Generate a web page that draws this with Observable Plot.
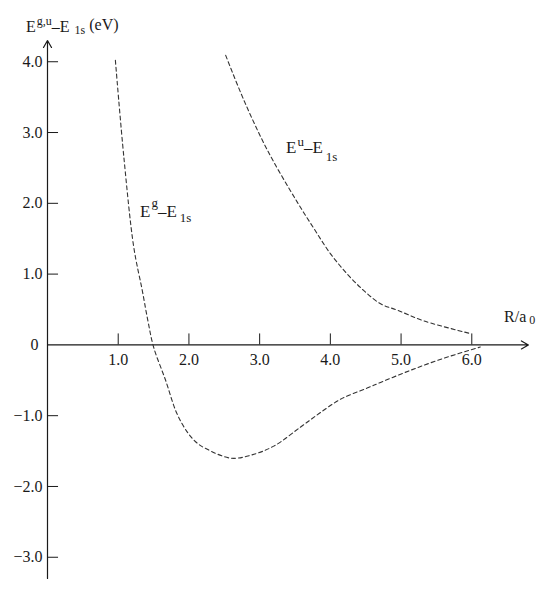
<!DOCTYPE html>
<html><head><meta charset="utf-8">
<script src="https://cdn.jsdelivr.net/npm/d3@7"></script>
<script src="https://cdn.jsdelivr.net/npm/@observablehq/plot@0.6"></script>
<style>body{margin:0;background:#fff}</style>
</head><body><div id="chart"></div>
<script>
// Tick values
const xTicks = [1, 2, 3, 4, 5, 6];
const yTicks = [-3, -2, -1, 1, 2, 3, 4];
// Gerade curve E^g - E_1s (eV) vs R/a0
const gR = [0.96, 1.08, 1.22, 1.34, 1.42, 1.50, 1.67, 1.83, 1.99, 2.12, 2.23, 2.59, 2.87, 3.20, 3.58, 3.84, 4.14, 4.52, 4.71, 5.13, 5.60, 6.12];
const gE = [4.02, 2.65, 1.38, 0.77, 0.34, -0.03, -0.50, -0.97, -1.25, -1.39, -1.46, -1.60, -1.56, -1.43, -1.16, -0.97, -0.77, -0.61, -0.53, -0.36, -0.19, -0.03];
// Ungerade curve E^u - E_1s (eV) vs R/a0
const uR = [2.52, 2.78, 3.11, 3.53, 3.77, 4.00, 4.24, 4.47, 4.71, 4.95, 5.32, 5.98];
const uE = [4.09, 3.45, 2.75, 2.02, 1.64, 1.29, 1.00, 0.77, 0.58, 0.49, 0.34, 0.16];

const gerade = gR.map((r, i) => ({r, e: gE[i]}));
const ungerade = uR.map((r, i) => ({r, e: uE[i]}));

const FONT = "'Liberation Serif', 'Times New Roman', serif";
const INK = "#1a1a1a";

function rich(anchor, parts) {
  return (index, scales, values, dims) => {
    const g = d3.create("svg:g");
    const x = anchor.px != null ? anchor.px : scales.x(anchor.x);
    const y = anchor.py != null ? anchor.py : scales.y(anchor.y);
    const t = g.append("text").attr("x", x).attr("y", y)
      .attr("text-anchor", "start")
      .attr("font-family", FONT).attr("fill", INK);
    let prev = 0;
    for (const p of parts) {
      t.append("tspan").attr("font-size", p.size)
        .attr("dy", p.shift - prev).attr("dx", p.dx || 0).text(p.t);
      prev = p.shift;
    }
    return g.node();
  };
}

const dash = {stroke: "#333", strokeWidth: 1.1, strokeDasharray: "4,3", curve: "catmull-rom"};

const chart = Plot.plot({
  width: 547,
  height: 602,
  marginLeft: 47,
  marginRight: 5,
  marginTop: 40,
  marginBottom: 24,
  x: {domain: [0, 7], axis: null},
  y: {domain: [-3.3, 4.3], axis: null},
  style: {background: "#fff", fontFamily: FONT},
  marks: [
    // axes with arrows
    Plot.arrow([0], {x1: 0, y1: 0, x2: 6.8, y2: 0, stroke: INK, strokeWidth: 1.2, headLength: 10, bend: 0}),
    Plot.arrow([0], {x1: 0, y1: -3.3, x2: 0, y2: 4.3, stroke: INK, strokeWidth: 1.2, headLength: 10, bend: 0}),
    // ticks
    Plot.ruleX(xTicks, {x: d => d, y1: 0, y2: 0.155, stroke: INK, strokeWidth: 1}),
    Plot.ruleY(yTicks, {y: d => d, x1: 0, x2: 0.156, stroke: INK, strokeWidth: 1}),
    // tick labels
    Plot.text(xTicks, {x: d => d, y: 0, dy: 15, text: d => d.toFixed(1), fontSize: 16, fontFamily: FONT, fill: INK}),
    Plot.text(yTicks, {x: 0, y: d => d, dx: -5, textAnchor: "end", text: d => (d < 0 ? "\u2212" + (-d).toFixed(1) : d.toFixed(1)), fontSize: 16, fontFamily: FONT, fill: INK}),
    Plot.text(["0"], {x: 0, y: 0, dx: -13, text: d => d, fontSize: 16, fontFamily: FONT, fill: INK}),
    // curves
    Plot.line(gerade, {x: "r", y: "e", ...dash}),
    Plot.line(ungerade, {x: "r", y: "e", ...dash}),
    // labels
    rich({px: 26, py: 31.7}, [
      {t: "E", size: 16, shift: 0},
      {t: "g,u", size: 12, shift: -7, dx: 1},
      {t: "\u2013E", size: 16, shift: 0},
      {t: "1s", size: 12, shift: 2, dx: 5},
      {t: "(eV)", size: 16, shift: -2, dx: 4}
    ]),
    rich({x: 1.315, y: 1.804}, [
      {t: "E", size: 17, shift: 0},
      {t: "g", size: 13, shift: -10, dx: 1},
      {t: "\u2013E", size: 17, shift: 0},
      {t: "1s", size: 13, shift: 5, dx: 3}
    ]),
    rich({x: 3.38, y: 2.70}, [
      {t: "E", size: 17, shift: 0},
      {t: "u", size: 13, shift: -7, dx: 1},
      {t: "\u2013E", size: 17, shift: 0},
      {t: "1s", size: 13, shift: 8, dx: 3}
    ]),
    rich({x: 6.463, y: 0.32}, [
      {t: "R/a", size: 16, shift: 0},
      {t: "0", size: 12, shift: 2.5, dx: 3}
    ])
  ]
});
document.getElementById("chart").appendChild(chart);
</script>
</body></html>
